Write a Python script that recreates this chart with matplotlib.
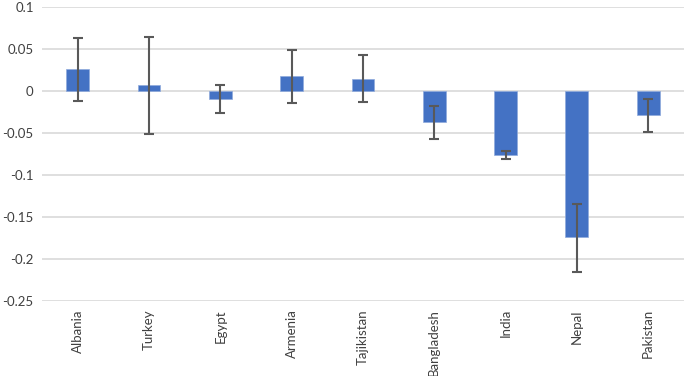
import matplotlib.pyplot as plt
import numpy as np

countries = ['Albania', 'Turkey', 'Egypt', 'Armenia', 'Tajikistan',
             'Bangladesh', 'India', 'Nepal', 'Pakistan']
values = [0.0259, 0.0072, -0.0095, 0.0175, 0.0143, -0.0374, -0.076, -0.1746, -0.0283]
err_high = [0.0636, 0.0648, 0.0068, 0.0489, 0.0426, -0.0179, -0.0712, -0.1345, -0.0092]
err_low = [-0.0119, -0.0517, -0.0259, -0.0147, -0.0131, -0.0569, -0.0815, -0.216, -0.0486]

plt.rcParams['font.family'] = ['Lato', 'DejaVu Sans']

fig = plt.figure(figsize=(6.85, 3.76), dpi=100)
ax = fig.add_axes([0.0613, 0.2003, 0.937, 0.7811])

x = np.arange(len(countries))
vals = np.array(values)
yerr = [vals - np.array(err_low), np.array(err_high) - vals]

ax.bar(x, vals, width=0.32, color='#4472C4', edgecolor='#8faadc', linewidth=0.5, zorder=2)
ax.errorbar(x, vals, yerr=yerr, fmt='none', ecolor='#595959', elinewidth=1.5,
            capsize=3.5, capthick=1.5, zorder=3)

ax.set_xlim(-0.5, len(countries) - 0.5)
ax.set_ylim(-0.25, 0.1)
ax.set_yticks([0.1, 0.05, 0, -0.05, -0.1, -0.15, -0.2, -0.25])
ax.set_yticklabels(['0.1', '0.05', '0', '-0.05', '-0.1', '-0.15', '-0.2', '-0.25'])
ax.yaxis.grid(True, color='#d9d9d9', linewidth=1.2, zorder=0)
ax.set_axisbelow(True)
ax.set_xticks(x)
ax.set_xticklabels(countries, rotation=90, va='top')
ax.tick_params(axis='y', length=0, pad=6, labelsize=9.5, labelcolor='#404040')
ax.tick_params(axis='x', length=0, pad=6, labelsize=9.5, labelcolor='#404040')
for s in ax.spines.values():
    s.set_visible(False)

fig.savefig('out.png', dpi=100)
